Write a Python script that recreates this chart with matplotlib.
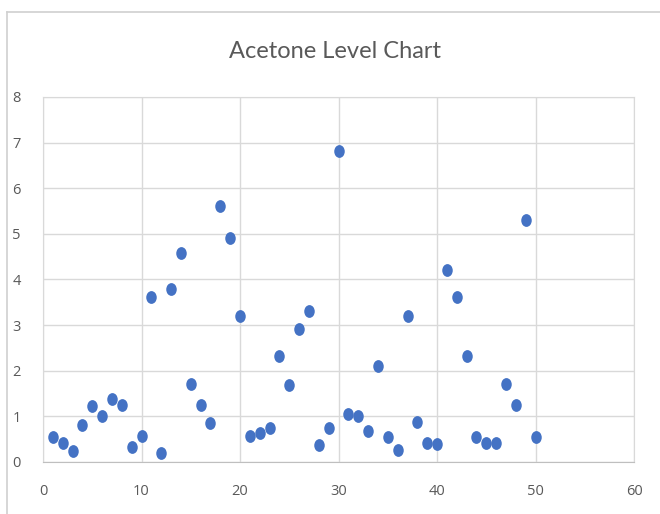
import numpy as np
import matplotlib.pyplot as plt
from matplotlib.path import Path
from matplotlib.transforms import Affine2D
from matplotlib.lines import Line2D

sample = list(range(1, 51))
acetone = [0.55, 0.42, 0.23, 0.82, 1.22, 1.00, 1.37, 1.25, 0.32, 0.58,
           3.61, 0.20, 3.80, 4.59, 1.71, 1.25, 0.85, 5.60, 4.90, 3.21,
           0.56, 0.64, 0.75, 2.32, 1.68, 2.91, 3.31, 0.38, 0.75, 6.81,
           1.06, 1.00, 0.67, 2.11, 0.54, 0.27, 3.21, 0.88, 0.42, 0.39,
           4.20, 3.62, 2.32, 0.54, 0.42, 0.42, 1.71, 1.25, 5.31, 0.54]

x_ticks = [0, 10, 20, 30, 40, 50, 60]
y_ticks = [0, 1, 2, 3, 4, 5, 6, 7, 8]

blue = '#4472C4'
text_gray = '#595959'
grid_gray = '#d9d9d9'

plt.rcParams['font.family'] = ['Open Sans', 'DejaVu Sans']

# slightly tall dot, like the Excel marker
dot = Path.unit_circle().transformed(Affine2D().scale(0.82, 1.0))

fig = plt.figure(figsize=(6.6, 5.14), dpi=100)
ax = fig.add_axes([0.0652, 0.1012, 0.8955, 0.7101])

ax.scatter(sample, acetone, s=85, marker=dot, color=blue, linewidths=0, zorder=3)

ax.set_xlim(0, 60)
ax.set_ylim(0, 8)
ax.set_xticks(x_ticks)
ax.set_yticks(y_ticks)
ax.grid(True, color=grid_gray, linewidth=1)
ax.set_axisbelow(True)
ax.tick_params(length=0, labelsize=10.5, colors=text_gray)
ax.tick_params(axis='x', pad=16)
ax.tick_params(axis='y', pad=16)
for side in ['left', 'right', 'top']:
    ax.spines[side].set_color(grid_gray)
ax.spines['bottom'].set_color('#bfbfbf')

fig.text(0.507, 0.90, 'Acetone Level Chart', ha='center', va='center',
         fontsize=17, color=text_gray, family=['Lato', 'DejaVu Sans'])

# chart area edge
fig.add_artist(Line2D([0.011, 1.0], [0.977, 0.977], color='#d0d0d0', linewidth=1.2))
fig.add_artist(Line2D([0.011, 0.011], [0.0, 0.977], color='#d0d0d0', linewidth=1.2))

fig.savefig('out.png', dpi=100)
